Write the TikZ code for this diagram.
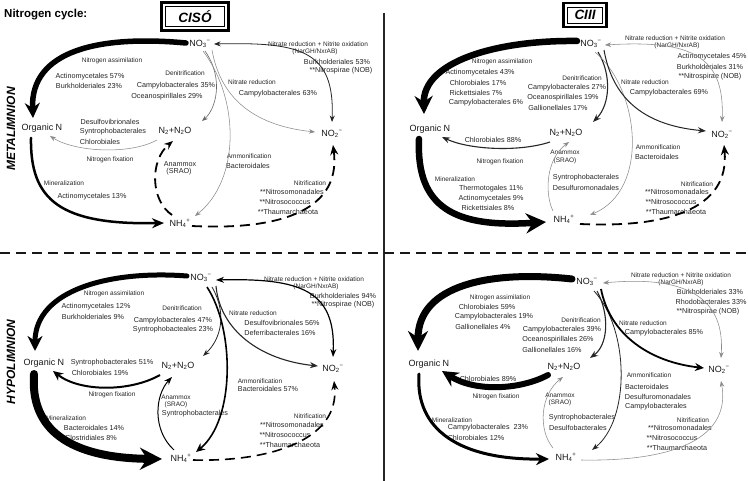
\documentclass[tikz,border=0pt]{standalone}
\usepackage{fontspec}
\setmainfont{Liberation Sans}
\usetikzlibrary{arrows.meta}
\newcommand\ionss[2]{\textsubscript{#1}\kern-0.3pt\textsuperscript{#2}}
\begin{document}
\begin{tikzpicture}[x=1pt,y=-1pt,
  sp/.style={font=\fontsize{9}{10}\selectfont, inner sep=0pt, text=black!90},
  tax/.style={font=\fontsize{7.2}{8}\selectfont, inner sep=0pt, text=black!85},
  lab/.style={font=\fontsize{6.5}{7}\selectfont, inner sep=0pt, text=black!85},
  side/.style={font=\fontsize{12}{14}\selectfont\bfseries\itshape, rotate=90, inner sep=0pt},
  gline/.style={draw=black!45, line width=0.55pt},
  dline/.style={draw=black!85, line width=#1},
  fat/.style={draw=black, line width=#1, line cap=round},
  dsh/.style={draw=black, line width=#1, dash pattern=on 10pt off 6pt},
  ahead/.style 2 args={-{Stealth[length=#1,width=#2]}},
  dhead/.style 2 args={{Stealth[length=#1,width=#2]}-{Stealth[length=#1,width=#2]}},
]
\fill[white] (0,0) rectangle (748,481);
\useasboundingbox (0,0) rectangle (748,481);

% frame
\node[font=\fontsize{11.5}{13}\selectfont\bfseries, anchor=west, inner sep=0pt] (title) at (4,15) {Nitrogen cycle:};
\node[draw, line width=2.5pt, minimum width=67pt, minimum height=28pt, inner sep=0pt] (bcis) at (195,16.5) {};
\node[draw, line width=0.7pt, minimum width=59pt, minimum height=20pt, inner sep=0pt, font=\fontsize{13.5}{15}\selectfont\bfseries\itshape] (tcis) at (195,16.5) {CISÓ};
\node[draw, line width=2.5pt, minimum width=43pt, minimum height=24pt, inner sep=0pt] (bciii) at (585,15) {};
\node[draw, line width=0.7pt, minimum width=35pt, minimum height=16pt, inner sep=0pt, font=\fontsize{13.5}{15}\selectfont\bfseries\itshape] (tciii) at (585,15) {CIII};
\draw[line width=1.6pt, black!85] (384,13) -- (384,481);
\draw[line width=1.8pt, black!90, dash pattern=on 10pt off 6pt] (0,253) -- (748,253);
\node[side] (meta) at (11,129) {METALIMNION};
\node[side] (hypo) at (11,362) {HYPOLIMNION};

% ================= Panel 1: CISO metalimnion
\node[sp] (p1no3) at (200,44) {NO\ionss{3}{−}};
\node[sp] (p1org) at (42,128) {Organic N};
\node[sp] (p1n2) at (175,131) {N\textsubscript{2}+N\textsubscript{2}O};
\node[sp] (p1no2) at (332,134) {NO\ionss{2}{−}};
\node[sp] (p1nh4) at (180,223) {NH\ionss{4}{+}};

\node[lab] (a1a) at (112,61) {Nitrogen assimilation};
\node[tax] (a1b) at (90,77) {Actinomycetales 57\%};
\node[tax] (a1c) at (89,86) {Burkholderiales 23\%};
\node[lab] (a1d) at (185,73) {Denitrification};
\node[tax] (a1e) at (176,86) {Campylobacterales 35\%};
\node[tax] (a1f) at (167,97) {Oceanospirillales 29\%};
\node[lab] (a1g) at (252,82) {Nitrate reduction};
\node[tax] (a1h) at (278,94) {Campylobacterales 63\%};
\node[lab] (a1i) at (318,44) {Nitrate reduction + Nitrite oxidation};
\node[lab] (a1j) at (315,52) {(NarGH/NxrAB)};
\node[tax] (a1k) at (337,62) {Burkholderiales 53\%};
\node[tax] (a1l) at (341,71) {**Nitrospirae (NOB)};
\node[tax] (a1m) at (110,122) {Desulfovibrionales};
\node[tax] (a1n) at (113,132) {Syntrophobacterales};
\node[tax] (a1o) at (100,142) {Chlorobiales};
\node[lab] (a1p) at (110,160) {Nitrogen fixation};
\node[tax] (a1q) at (180,164) {Anammox};
\node[tax] (a1r) at (179,172) {(SRAO)};
\node[lab] (a1s) at (249,156) {Ammonification};
\node[tax] (a1t) at (248,166) {Bacteroidales};
\node[lab] (a1u) at (64,183) {Mineralization};
\node[tax] (a1v) at (92,197) {Actinomycetales 13\%};
\node[lab] (a1w) at (310,183) {Nitrification};
\node[tax] (a1x) at (292,192) {**Nitrosomonadales};
\node[tax] (a1y) at (285,202) {**Nitrosococcus};
\node[tax] (a1z) at (288,212) {**Thaumarchaeota};

\draw[fat=5.5pt, ahead={15pt}{15pt}] ([shift={(-14,-1)}]p1no3.center) .. controls (100,35) and (30,50) .. ([shift={(-9,-10)}]p1org.center);
\draw[fat=2.5pt, ahead={12pt}{10pt}] ([shift={(-11,10)}]p1org.center) .. controls (30,200) and (60,225) .. ([shift={(-16,0)}]p1nh4.center);
\draw[gline, ahead={6pt}{4.5pt}] ([shift={(-18,9)}]p1n2.center) .. controls (130,155) and (75,152) .. ([shift={(8,8)}]p1org.center);
\draw[dline=0.6pt, draw=black!60, ahead={6pt}{4.5pt}] ([shift={(5,7)}]p1no3.center) .. controls (225,80) and (215,110) .. ([shift={(27,-10)}]p1n2.center);
\draw[gline, ahead={6pt}{4.5pt}] ([shift={(3,7)}]p1no3.center) .. controls (240,100) and (240,180) .. ([shift={(15,-7)}]p1nh4.center);
\draw[gline, ahead={6pt}{4.5pt}] ([shift={(12,6)}]p1no3.center) .. controls (220,95) and (250,125) .. ([shift={(-17,-2)}]p1no2.center);
\draw[dline=0.8pt, dhead={6.5pt}{5pt}] ([shift={(14,0)}]p1no3.center) .. controls (300,42) and (335,50) .. ([shift={(0,-12)}]p1no2.center);
\draw[dsh=1.8pt, ahead={10pt}{8pt}] ([shift={(12,3)}]p1nh4.center) .. controls (270,230) and (342,215) .. ([shift={(1,11)}]p1no2.center);
\draw[dsh=1.8pt, ahead={9pt}{7pt}] ([shift={(-8,-8)}]p1nh4.center) .. controls (150,200) and (150,160) .. ([shift={(-2,10)}]p1n2.center);

% ================= Panel 2: CIII metalimnion
\node[sp] (p2no3) at (591,44) {NO\ionss{3}{−}};
\node[sp] (p2org) at (430,129) {Organic N};
\node[sp] (p2n2) at (566,133) {N\textsubscript{2}+N\textsubscript{2}O};
\node[sp] (p2no2) at (722,135) {NO\ionss{2}{−}};
\node[sp] (p2nh4) at (564,219) {NH\ionss{4}{+}};

\node[lab] (b1a) at (502,62) {Nitrogen assimilation};
\node[tax] (b1b) at (480,73) {Actinomycetales 43\%};
\node[tax] (b1c) at (478,83) {Chlorobiales 17\%};
\node[tax] (b1d) at (476,93) {Rickettsiales 7\%};
\node[tax] (b1e) at (486,103) {Campylobacterales 6\%};
\node[lab] (b1f) at (582,78) {Denitrification};
\node[tax] (b1g) at (567,88) {Campylobacterales 27\%};
\node[tax] (b1h) at (563,98) {Oceanospirillales 19\%};
\node[tax] (b1i) at (558,108) {Gallionellales 17\%};
\node[lab] (b1j) at (645,82) {Nitrate reduction};
\node[tax] (b1k) at (669,93) {Campylobacterales 69\%};
\node[lab] (b1l) at (675,38) {Nitrate reduction + Nitrite oxidation};
\node[lab] (b1m) at (677,46) {(NarGH/NxrAB)};
\node[tax] (b1n) at (712,57) {Actinomycetales 45\%};
\node[tax] (b1o) at (710,67) {Burkholderiales 31\%};
\node[tax] (b1p) at (710,77) {**Nitrospirae (NOB)};
\node[tax] (b1q) at (493,140) {Chlorobiales 88\%};
\node[lab] (b1r) at (500,162) {Nitrogen fixation};
\node[lab] (b1s) at (565,152) {Anammox};
\node[lab] (b1t) at (565,161) {(SRAO)};
\node[tax] (b1u) at (586,178) {Syntrophobacterales};
\node[tax] (b1v) at (586,188) {Desulfuromonadales};
\node[lab] (b1w) at (658,147) {Ammonification};
\node[tax] (b1x) at (657,157) {Bacteroidales};
\node[lab] (b1y) at (455,179) {Mineralization};
\node[tax] (b1z) at (491,189) {Thermotogales 11\%};
\node[tax] (b2a) at (491,199) {Actinomycetales 9\%};
\node[tax] (b2b) at (488,208) {Rickettsiales 8\%};
\node[lab] (b2c) at (697,184) {Nitrification};
\node[tax] (b2d) at (677,192) {**Nitrosomonadales};
\node[tax] (b2e) at (671,202) {**Nitrosococcus};
\node[tax] (b2f) at (676,212) {**Thaumarchaeota};

\draw[fat=6.5pt, ahead={18pt}{18pt}] ([shift={(-14,-3)}]p2no3.center) .. controls (495,40) and (423,62) .. ([shift={(-6,-15)}]p2org.center);
\draw[fat=6.5pt, ahead={20pt}{20pt}] ([shift={(-11,10)}]p2org.center) .. controls (416,208) and (455,228) .. ([shift={(-18,3)}]p2nh4.center);
\draw[dline=1.1pt, ahead={8pt}{6pt}] ([shift={(-16,9)}]p2n2.center) .. controls (520,152) and (470,150) .. ([shift={(12,8)}]p2org.center);
\draw[dline=1.1pt, ahead={8pt}{6pt}] ([shift={(7,8)}]p2no3.center) .. controls (612,75) and (610,105) .. ([shift={(27,-11)}]p2n2.center);
\draw[gline, ahead={6pt}{4.5pt}] ([shift={(4,8)}]p2no3.center) .. controls (640,90) and (650,190) .. ([shift={(26,-4)}]p2nh4.center);
\draw[dline=1pt, ahead={8pt}{6pt}] ([shift={(13,6)}]p2no3.center) .. controls (612,95) and (640,125) .. ([shift={(-16,-4)}]p2no2.center);
\draw[gline, dhead={6pt}{4.5pt}] ([shift={(14,1)}]p2no3.center) .. controls (690,40) and (725,55) .. ([shift={(0,-13)}]p2no2.center);
\draw[dsh=1.8pt, ahead={10pt}{8pt}] ([shift={(16,5)}]p2nh4.center) .. controls (665,228) and (730,210) .. ([shift={(2,10)}]p2no2.center);
\draw[gline, ahead={6pt}{4.5pt}] ([shift={(-11,-8)}]p2nh4.center) .. controls (545,195) and (545,160) .. ([shift={(3,9)}]p2n2.center);

% ================= Panel 3: CISO hypolimnion
\node[sp] (p3no3) at (201,278) {NO\ionss{3}{−}};
\node[sp] (p3org) at (44,363) {Organic N};
\node[sp] (p3n2) at (178,366) {N\textsubscript{2}+N\textsubscript{2}O};
\node[sp] (p3no2) at (333,369) {NO\ionss{2}{−}};
\node[sp] (p3nh4) at (181,458) {NH\ionss{4}{+}};

\node[lab] (c1a) at (114,294) {Nitrogen assimilation};
\node[tax] (c1b) at (96,307) {Actinomycetales 12\%};
\node[tax] (c1c) at (93,317) {Burkholderiales 9\%};
\node[lab] (c1d) at (182,308) {Denitrification};
\node[tax] (c1e) at (173,321) {Campylobacterales 47\%};
\node[tax] (c1f) at (173,330) {Syntrophobacteales 23\%};
\node[lab] (c1g) at (253,313) {Nitrate reduction};
\node[tax] (c1h) at (282,323) {Desulfovibrionales 56\%};
\node[tax] (c1i) at (280,333) {Deferribacterales 16\%};
\node[lab] (c1j) at (314,279) {Nitrate reduction + Nitrite oxidation};
\node[lab] (c1k) at (316,287) {(NarGH/NxrAB)};
\node[tax] (c1l) at (343,296) {Burkholderiales 94\%};
\node[tax] (c1m) at (343,305) {**Nitrospirae (NOB)};
\node[tax] (c1n) at (112,363) {Syntrophobacterales 51\%};
\node[tax] (c1o) at (100,373) {Chlorobiales 19\%};
\node[lab] (c1p) at (112,395) {Nitrogen fixation};
\node[lab] (c1q) at (176,397) {Anammox};
\node[lab] (c1r) at (176,405) {(SRAO)};
\node[tax] (c1s) at (195,414) {Syntrophobacterales};
\node[lab] (c1t) at (260,381) {Ammonification};
\node[tax] (c1u) at (268,389) {Bacteroidales 57\%};
\node[lab] (c1v) at (66,418) {Mineralization};
\node[tax] (c1w) at (94,428) {Bacteroidales 14\%};
\node[tax] (c1x) at (91,438) {Clostridiales 8\%};
\node[lab] (c1y) at (310,416) {Nitrification};
\node[tax] (c1z) at (292,425) {**Nitrosomonadales};
\node[tax] (c2a) at (285,435) {**Nitrosococcus};
\node[tax] (c2b) at (290,445) {**Thaumarchaeota};

\draw[fat=5pt, ahead={15pt}{15pt}] ([shift={(-14,-2)}]p3no3.center) .. controls (110,270) and (35,290) .. ([shift={(-9,-12)}]p3org.center);
\draw[fat=8pt, ahead={22pt}{22pt}] ([shift={(-10,11)}]p3org.center) .. controls (30,430) and (70,458) .. ([shift={(-19,1)}]p3nh4.center);
\draw[dline=2pt, draw=black, ahead={10pt}{9pt}] ([shift={(-18,9)}]p3n2.center) .. controls (130,392) and (80,392) .. ([shift={(9,8)}]p3org.center);
\draw[dline=0.8pt, ahead={7pt}{5pt}] ([shift={(11,9)}]p3no3.center) .. controls (228,315) and (220,340) .. ([shift={(25,-10)}]p3n2.center);
\draw[dline=1.6pt, draw=black, ahead={9pt}{8pt}] ([shift={(6,9)}]p3no3.center) .. controls (235,330) and (235,420) .. ([shift={(15,-6)}]p3nh4.center);
\draw[dline=1.1pt, ahead={8pt}{6pt}] ([shift={(15,8)}]p3no3.center) .. controls (220,330) and (260,360) .. ([shift={(-15,-3)}]p3no2.center);
\draw[dline=1.2pt, draw=black, dhead={8pt}{6pt}] ([shift={(15,2)}]p3no3.center) .. controls (300,278) and (336,290) .. ([shift={(0,-12)}]p3no2.center);
\draw[dsh=1.6pt, ahead={9pt}{7pt}] ([shift={(12,2)}]p3nh4.center) .. controls (270,462) and (340,440) .. ([shift={(1,12)}]p3no2.center);
\draw[dline=1pt, draw=black, ahead={8pt}{6pt}] ([shift={(-7,-8)}]p3nh4.center) .. controls (152,430) and (155,395) .. ([shift={(-6,11)}]p3n2.center);

% ================= Panel 4: CIII hypolimnion
\node[sp] (p4no3) at (587,282) {NO\ionss{3}{−}};
\node[sp] (p4org) at (429,364) {Organic N};
\node[sp] (p4n2) at (564,367) {N\textsubscript{2}+N\textsubscript{2}O};
\node[sp] (p4no2) at (719,370) {NO\ionss{2}{−}};
\node[sp] (p4nh4) at (566,457) {NH\ionss{4}{+}};

\node[lab] (d1a) at (500,298) {Nitrogen assimilation};
\node[tax] (d1b) at (487,307) {Chlorobiales 59\%};
\node[tax] (d1c) at (494,317) {Campylobacterales 19\%};
\node[tax] (d1d) at (483,327) {Gallionellales 4\%};
\node[lab] (d1e) at (581,320) {Denitrification};
\node[tax] (d1f) at (562,330) {Campylobacterales 39\%};
\node[tax] (d1g) at (558,340) {Oceanospirillales 26\%};
\node[tax] (d1h) at (552,350) {Gallionellales 16\%};
\node[lab] (d1i) at (643,323) {Nitrate reduction};
\node[tax] (d1j) at (664,333) {Campylobacterales 85\%};
\node[lab] (d1k) at (681,275) {Nitrate reduction + Nitrite oxidation};
\node[lab] (d1l) at (681,283) {(NarGH/NxrAB)};
\node[tax] (d1m) at (710,292) {Burkholderiales 33\%};
\node[tax] (d1n) at (711,302) {Rhodobacterales 33\%};
\node[tax] (d1o) at (708,312) {**Nitrospirae (NOB)};
\node[tax] (d1p) at (488,379) {Chlorobiales 89\%};
\node[lab] (d1q) at (496,397) {Nitrogen fixation};
\node[lab] (d1r) at (560,395) {Anammox};
\node[lab] (d1s) at (560,403) {(SRAO)};
\node[tax] (d1t) at (582,418) {Syntrophobacterales};
\node[tax] (d1u) at (578,428) {Desulfobacterales};
\node[lab] (d1v) at (649,375) {Ammonification};
\node[tax] (d1w) at (647,387) {Bacteroidales};
\node[tax] (d1x) at (658,397) {Desulfuromonadales};
\node[tax] (d1y) at (656,407) {Campylobacterales};
\node[lab] (d1z) at (452,420) {Mineralization};
\node[tax] (d2a) at (488,428) {Campylobacterales\ \ 23\%};
\node[tax] (d2b) at (476,438) {Chlorobiales 12\%};
\node[lab] (d2c) at (693,420) {Nitrification};
\node[tax] (d2d) at (680,428) {**Nitrosomonadales};
\node[tax] (d2e) at (672,438) {**Nitrosococcus};
\node[tax] (d2f) at (677,448) {**Thaumarchaeota};

\draw[fat=7pt, ahead={20pt}{20pt}] ([shift={(-15,-3)}]p4no3.center) .. controls (490,270) and (418,285) .. ([shift={(-11,-13)}]p4org.center);
\draw[fat=3pt, ahead={13pt}{12pt}] ([shift={(-10,10)}]p4org.center) .. controls (415,430) and (460,460) .. ([shift={(-17,2)}]p4nh4.center);
\draw[fat=6pt, ahead={16pt}{16pt}] ([shift={(-16,8)}]p4n2.center) .. controls (520,390) and (475,392) .. ([shift={(13,7)}]p4org.center);
\draw[dline=1.1pt, ahead={8pt}{6pt}] ([shift={(10,9)}]p4no3.center) .. controls (610,315) and (608,345) .. ([shift={(26,-9)}]p4n2.center);
\draw[dline=0.8pt, ahead={7pt}{5pt}] ([shift={(7,9)}]p4no3.center) .. controls (630,330) and (630,420) .. ([shift={(26,-7)}]p4nh4.center);
\draw[dline=1.8pt, draw=black, ahead={9pt}{8pt}] ([shift={(14,7)}]p4no3.center) .. controls (610,335) and (650,362) .. ([shift={(-15,-2)}]p4no2.center);
\draw[gline, dhead={6pt}{4.5pt}] ([shift={(16,1)}]p4no3.center) .. controls (690,275) and (725,300) .. ([shift={(2,-12)}]p4no2.center);
\draw[gline, ahead={6pt}{4.5pt}] ([shift={(15,3)}]p4nh4.center) .. controls (690,462) and (730,430) .. ([shift={(2,11)}]p4no2.center);
\draw[gline, ahead={6pt}{4.5pt}] ([shift={(-13,-9)}]p4nh4.center) .. controls (538,430) and (540,395) .. ([shift={(-1,10)}]p4n2.center);
\end{tikzpicture}
\end{document}
